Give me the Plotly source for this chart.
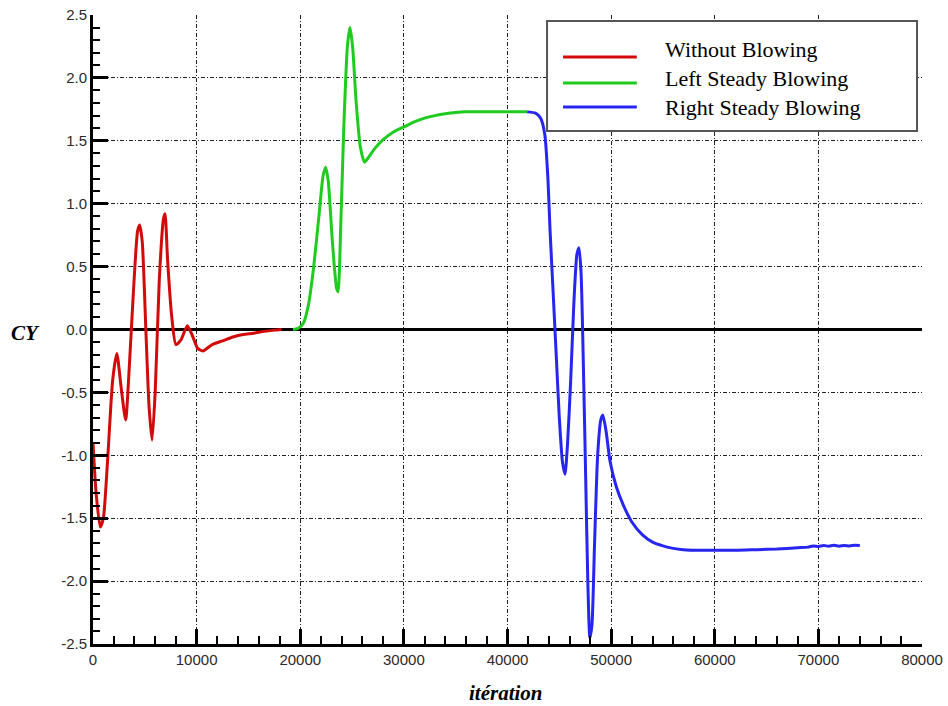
import plotly.graph_objects as go

# CY history over the solver iterations for the three blowing configurations
series_names = ["Without Blowing", "Left Steady Blowing", "Right Steady Blowing"]
series_colors = ["#d10a0a", "#1ecb1e", "#2626f0"]

no_blow_iter = [0, 300, 700, 1000, 1400, 1900, 2300, 2700, 3150, 3500, 3900, 4300, 4500,
                4750, 5100, 5400, 5700, 6000, 6400, 6800, 6950, 7200, 7600, 8000, 8500,
                9100, 9600, 10100, 10600, 11500, 12500, 13500, 14500, 15500, 16500,
                17500, 18200]
no_blow_cy = [-0.90, -1.30, -1.57, -1.50, -1.05, -0.40, -0.19, -0.45, -0.72, -0.30, 0.30,
              0.78, 0.83, 0.70, 0.00, -0.60, -0.88, -0.50, 0.40, 0.88, 0.92, 0.55, 0.10,
              -0.12, -0.08, 0.03, -0.05, -0.15, -0.17, -0.12, -0.09, -0.06, -0.04, -0.03,
              -0.015, -0.005, 0.0]

left_iter = [19300, 19800, 20300, 20800, 21300, 21800, 22200, 22450, 22700, 23100, 23500,
             23650, 23900, 24200, 24550, 24800, 25050, 25400, 25800, 26200, 26600, 27200,
             28000, 29000, 30000, 31000, 32000, 33000, 34000, 35000, 36000, 38000, 40000,
             41900]
left_cy = [0.0, 0.01, 0.05, 0.20, 0.50, 0.90, 1.22, 1.29, 1.18, 0.70, 0.33, 0.30, 0.80,
           1.60, 2.25, 2.40, 2.25, 1.80, 1.45, 1.33, 1.37, 1.44, 1.51, 1.57, 1.61, 1.65,
           1.68, 1.70, 1.715, 1.725, 1.73, 1.73, 1.73, 1.73]

right_iter = [41900, 42700, 43200, 43600, 43900, 44100, 44400, 44700, 45000, 45300, 45550,
              45800, 46100, 46400, 46700, 46900, 47100, 47300, 47550, 47750, 47950, 48150,
              48400, 48700, 49000, 49200, 49500, 49900, 50500, 51200, 52000, 53000, 54000,
              55000, 56000, 57000, 58500, 60000, 62000, 64000, 66000, 68000, 69000, 69500,
              70000, 70500, 71000, 71500, 72000, 72500, 73000, 73500, 74000]
right_cy = [1.73, 1.72, 1.68, 1.55, 1.20, 0.80, 0.30, -0.20, -0.70, -1.05, -1.15, -0.90,
            -0.40, 0.20, 0.60, 0.65, 0.45, -0.20, -1.20, -2.00, -2.45, -2.35, -1.70, -1.00,
            -0.72, -0.68, -0.80, -1.05, -1.25, -1.40, -1.53, -1.63, -1.69, -1.72, -1.74,
            -1.75, -1.755, -1.755, -1.755, -1.75, -1.745, -1.735, -1.73, -1.72, -1.725,
            -1.718, -1.722, -1.716, -1.722, -1.717, -1.72, -1.716, -1.717]

x_tick_vals = [0, 10000, 20000, 30000, 40000, 50000, 60000, 70000, 80000]
x_tick_text = ["0", "10000", "20000", "30000", "40000", "50000", "60000", "70000", "80000"]
y_tick_vals = [-2.5, -2.0, -1.5, -1.0, -0.5, 0.0, 0.5, 1.0, 1.5, 2.0, 2.5]
y_tick_text = ["-2.5", "-2.0", "-1.5", "-1.0", "-0.5", "0.0", "0.5", "1.0", "1.5", "2.0", "2.5"]

fig = go.Figure()
for xs, ys, name, color in zip([no_blow_iter, left_iter, right_iter],
                               [no_blow_cy, left_cy, right_cy],
                               series_names, series_colors):
    fig.add_trace(go.Scatter(x=xs, y=ys, mode="lines", name=name, showlegend=False,
                             line=dict(color=color, width=3, shape="spline", smoothing=0.6)))

tick_font = dict(family="Liberation Sans, Arial, sans-serif", size=15, color="#2a2a2a")
grid_dash = "4px,2px,1px,2px"

fig.update_xaxes(range=[0, 80000], tickvals=x_tick_vals, ticktext=x_tick_text,
                 tickfont=tick_font, ticks="inside", ticklen=15, tickwidth=3,
                 tickcolor="black", showline=True, linewidth=3, linecolor="black",
                 showgrid=True, gridcolor="#222", gridwidth=1, griddash=grid_dash,
                 zeroline=False, automargin=False,
                 minor=dict(dtick=2000, ticks="inside", ticklen=8, tickwidth=2,
                            tickcolor="black", showgrid=False))
fig.update_yaxes(range=[-2.5, 2.5], tickvals=y_tick_vals, ticktext=y_tick_text,
                 tickfont=tick_font, ticks="inside", ticklen=15, tickwidth=3,
                 tickcolor="black", showline=True, linewidth=3, linecolor="black",
                 showgrid=True, gridcolor="#222", gridwidth=1, griddash=grid_dash,
                 zeroline=True, zerolinecolor="black", zerolinewidth=3, automargin=False,
                 minor=dict(dtick=0.1, ticks="inside", ticklen=7, tickwidth=2,
                            tickcolor="black", showgrid=False))

# hand-built legend box in the upper right corner
shapes = [dict(type="rect", xref="paper", yref="paper", x0=0.5477, x1=0.994,
               y0=0.8156, y1=0.9905, line=dict(color="#555", width=2),
               fillcolor="white", layer="above")]
annotations = []
line_rows = [0.9332, 0.8919, 0.8537]
text_rows = [0.9444, 0.8983, 0.8537]
for name, color, ly, ty in zip(series_names, series_colors, line_rows, text_rows):
    shapes.append(dict(type="line", xref="paper", yref="paper", x0=0.567, x1=0.656,
                       y0=ly, y1=ly, line=dict(color=color, width=3), layer="above"))
    annotations.append(dict(xref="paper", yref="paper", x=0.688, y=ty, text=name,
                            xanchor="left", yanchor="middle", showarrow=False,
                            font=dict(family="Liberation Serif, Times New Roman, serif",
                                      size=22, color="black")))

# axis titles
annotations.append(dict(xref="paper", yref="paper", x=-0.082, y=0.4946, text="<b><i>CY</i></b>",
                        xanchor="center", yanchor="middle", showarrow=False,
                        font=dict(family="Liberation Serif, Times New Roman, serif",
                                  size=21, color="black")))
annotations.append(dict(xref="paper", yref="paper", x=0.4982, y=-0.078,
                        text="<b><i>itération</i></b>", xanchor="center", yanchor="middle",
                        showarrow=False,
                        font=dict(family="Liberation Serif, Times New Roman, serif",
                                  size=21, color="black")))

fig.update_layout(width=948, height=706, margin=dict(l=93, r=26, t=15, b=62),
                  paper_bgcolor="white", plot_bgcolor="white",
                  shapes=shapes, annotations=annotations)

fig.write_html("out.html")
